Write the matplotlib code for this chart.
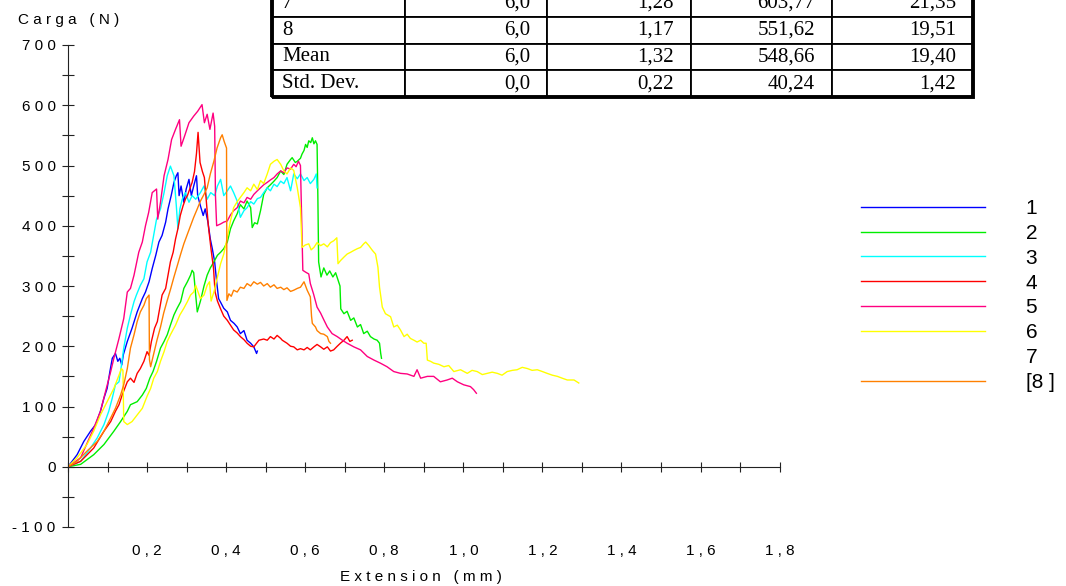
import matplotlib.pyplot as plt
from matplotlib.patches import Rectangle
from matplotlib.ticker import FixedLocator, MultipleLocator, FuncFormatter

# load-extension curves: (extension mm, load N)
curve_1 = [(0, 0), (0.023, 20), (0.040, 42), (0.057, 59), (0.070, 70), (0.082, 92), (0.091, 114),
           (0.099, 130), (0.106, 158), (0.112, 180), (0.120, 188), (0.126, 175), (0.131, 180),
           (0.136, 169), (0.140, 186), (0.150, 208), (0.162, 230), (0.175, 257), (0.188, 279),
           (0.196, 290), (0.205, 307), (0.213, 329), (0.222, 351), (0.230, 373), (0.238, 384),
           (0.247, 406), (0.253, 428), (0.261, 450), (0.268, 472), (0.274, 483), (0.278, 488),
           (0.281, 450), (0.286, 466), (0.293, 439), (0.299, 461), (0.306, 477), (0.312, 450),
           (0.318, 466), (0.325, 483), (0.328, 450), (0.335, 433), (0.342, 417), (0.347, 428),
           (0.354, 406), (0.360, 378), (0.365, 362), (0.371, 340), (0.376, 307), (0.381, 279),
           (0.386, 273), (0.394, 263), (0.403, 257), (0.411, 243), (0.420, 238), (0.428, 232),
           (0.436, 221), (0.445, 226), (0.453, 210), (0.462, 205), (0.470, 199), (0.477, 188),
           (0.479, 192)]

curve_2 = [(0, 0), (0.032, 4), (0.065, 20), (0.091, 37), (0.116, 59), (0.133, 75), (0.150, 92),
           (0.158, 103), (0.175, 108), (0.188, 119), (0.198, 130), (0.207, 147), (0.215, 158),
           (0.224, 175), (0.234, 197), (0.243, 208), (0.251, 219), (0.259, 235), (0.268, 252),
           (0.276, 263), (0.285, 274), (0.293, 296), (0.302, 307), (0.310, 318), (0.314, 326),
           (0.318, 322), (0.323, 285), (0.327, 257), (0.335, 275), (0.344, 300), (0.352, 318),
           (0.360, 330), (0.369, 340), (0.378, 351), (0.386, 356), (0.394, 362), (0.403, 373),
           (0.411, 395), (0.419, 408), (0.428, 420), (0.436, 435), (0.445, 428), (0.453, 441),
           (0.462, 430), (0.466, 397), (0.472, 405), (0.479, 403), (0.487, 425), (0.495, 452),
           (0.504, 463), (0.512, 468), (0.521, 474), (0.529, 480), (0.538, 491), (0.546, 485),
           (0.554, 502), (0.563, 510), (0.567, 513), (0.575, 505), (0.580, 507), (0.588, 512),
           (0.592, 519), (0.597, 525), (0.601, 535), (0.605, 530), (0.609, 541), (0.614, 538),
           (0.618, 546), (0.622, 536), (0.626, 541), (0.630, 535), (0.632, 450), (0.634, 340),
           (0.640, 315), (0.647, 330), (0.655, 318), (0.662, 325), (0.670, 315), (0.677, 322),
           (0.683, 310), (0.688, 300), (0.690, 262), (0.698, 254), (0.706, 258), (0.715, 243),
           (0.723, 247), (0.732, 232), (0.740, 236), (0.748, 221), (0.757, 225), (0.765, 216),
           (0.774, 212), (0.782, 210), (0.788, 205), (0.791, 188), (0.793, 180)]

curve_3 = [(0, 0), (0.032, 9), (0.057, 31), (0.074, 48), (0.091, 70), (0.103, 92), (0.112, 114),
           (0.120, 136), (0.129, 141), (0.133, 158), (0.141, 197), (0.150, 230), (0.158, 252),
           (0.167, 274), (0.173, 285), (0.183, 301), (0.192, 312), (0.200, 340), (0.209, 356),
           (0.215, 378), (0.224, 411), (0.234, 428), (0.243, 455), (0.251, 483), (0.259, 499),
           (0.268, 483), (0.274, 433), (0.278, 395), (0.283, 428), (0.289, 444), (0.297, 455),
           (0.306, 439), (0.314, 450), (0.323, 444), (0.335, 455), (0.344, 466), (0.352, 444),
           (0.361, 455), (0.371, 450), (0.378, 466), (0.386, 477), (0.394, 450), (0.403, 458),
           (0.411, 466), (0.419, 455), (0.428, 441), (0.436, 414), (0.445, 425), (0.453, 430),
           (0.462, 440), (0.470, 436), (0.479, 445), (0.487, 447), (0.495, 455), (0.504, 463),
           (0.512, 458), (0.521, 469), (0.529, 465), (0.538, 474), (0.546, 470), (0.554, 480),
           (0.563, 458), (0.571, 486), (0.580, 478), (0.588, 486), (0.597, 475), (0.605, 480),
           (0.613, 470), (0.622, 477), (0.628, 486), (0.630, 463)]

curve_4 = [(0, 0), (0.032, 9), (0.065, 31), (0.091, 59), (0.108, 75), (0.120, 92), (0.129, 103),
           (0.137, 119), (0.150, 141), (0.158, 147), (0.167, 140), (0.175, 155), (0.183, 163),
           (0.192, 175), (0.200, 191), (0.205, 185), (0.211, 208), (0.219, 230), (0.226, 241),
           (0.232, 263), (0.238, 285), (0.247, 296), (0.253, 318), (0.259, 340), (0.266, 356),
           (0.272, 378), (0.278, 395), (0.284, 417), (0.291, 433), (0.297, 444), (0.302, 450),
           (0.308, 461), (0.314, 472), (0.320, 490), (0.325, 520), (0.329, 555), (0.334, 505),
           (0.340, 490), (0.345, 480), (0.350, 440), (0.355, 400), (0.362, 360), (0.368, 330),
           (0.372, 290), (0.378, 275), (0.386, 262), (0.394, 250), (0.403, 243), (0.411, 235),
           (0.419, 227), (0.428, 222), (0.436, 216), (0.445, 211), (0.453, 205), (0.462, 200),
           (0.470, 199), (0.477, 205), (0.483, 210), (0.495, 212), (0.504, 210), (0.512, 216),
           (0.521, 212), (0.529, 218), (0.538, 213), (0.542, 210), (0.554, 205), (0.563, 200),
           (0.571, 199), (0.580, 194), (0.588, 196), (0.597, 194), (0.605, 198), (0.613, 194),
           (0.622, 199), (0.630, 203), (0.639, 199), (0.647, 195), (0.656, 199), (0.664, 192),
           (0.672, 194), (0.681, 200), (0.689, 205), (0.698, 210), (0.706, 216), (0.713, 208),
           (0.719, 210)]

curve_5 = [(0, 0), (0.032, 15), (0.065, 64), (0.082, 92), (0.095, 125), (0.108, 158), (0.116, 180),
           (0.129, 213), (0.141, 246), (0.150, 290), (0.158, 296), (0.167, 318), (0.179, 356),
           (0.188, 373), (0.196, 400), (0.204, 422), (0.213, 455), (0.224, 461), (0.227, 411),
           (0.234, 439), (0.243, 483), (0.253, 510), (0.262, 543), (0.272, 560), (0.282, 576),
           (0.286, 532), (0.295, 549), (0.306, 571), (0.318, 582), (0.328, 590), (0.339, 601),
           (0.345, 571), (0.352, 585), (0.359, 560), (0.367, 587), (0.371, 565), (0.373, 450),
           (0.376, 400), (0.386, 403), (0.394, 406), (0.403, 408), (0.411, 418), (0.419, 425),
           (0.428, 430), (0.436, 441), (0.445, 438), (0.453, 447), (0.462, 444), (0.470, 452),
           (0.479, 458), (0.487, 463), (0.495, 468), (0.504, 472), (0.512, 476), (0.521, 480),
           (0.529, 486), (0.538, 491), (0.546, 488), (0.554, 496), (0.563, 494), (0.571, 502),
           (0.577, 498), (0.583, 507), (0.588, 500), (0.594, 326), (0.601, 323), (0.609, 320),
           (0.613, 304), (0.621, 287), (0.630, 265), (0.639, 255), (0.647, 244), (0.656, 232),
           (0.668, 221), (0.681, 216), (0.694, 210), (0.706, 205), (0.723, 199), (0.740, 194),
           (0.757, 183), (0.774, 177), (0.790, 172), (0.807, 166), (0.824, 158), (0.841, 155),
           (0.858, 154), (0.875, 150), (0.883, 161), (0.892, 147), (0.909, 150), (0.925, 150),
           (0.942, 141), (0.959, 144), (0.972, 147), (0.985, 141), (1.001, 136), (1.018, 133),
           (1.026, 128), (1.033, 122)]

curve_6 = [(0, 0), (0.023, 15), (0.048, 37), (0.065, 59), (0.082, 86), (0.099, 108), (0.116, 130),
           (0.129, 152), (0.135, 163), (0.139, 160), (0.141, 75), (0.150, 70), (0.162, 75),
           (0.175, 86), (0.188, 97), (0.200, 117), (0.209, 130), (0.217, 147), (0.226, 158),
           (0.234, 175), (0.243, 191), (0.251, 208), (0.259, 219), (0.272, 235), (0.283, 252),
           (0.293, 263), (0.302, 274), (0.310, 285), (0.318, 290), (0.323, 301), (0.328, 292),
           (0.335, 279), (0.344, 285), (0.352, 301), (0.358, 307), (0.362, 275), (0.369, 290),
           (0.378, 315), (0.386, 337), (0.394, 353), (0.403, 381), (0.411, 408), (0.419, 430),
           (0.428, 440), (0.436, 447), (0.445, 455), (0.453, 463), (0.462, 458), (0.470, 469),
           (0.479, 460), (0.487, 475), (0.495, 470), (0.504, 486), (0.512, 502), (0.521, 507),
           (0.529, 510), (0.538, 502), (0.546, 491), (0.554, 486), (0.563, 496), (0.571, 492),
           (0.580, 463), (0.588, 430), (0.592, 364), (0.600, 368), (0.609, 370), (0.615, 360),
           (0.622, 364), (0.630, 372), (0.639, 367), (0.647, 370), (0.656, 365), (0.664, 372),
           (0.672, 375), (0.680, 380), (0.683, 337), (0.689, 342), (0.698, 348), (0.706, 353),
           (0.715, 356), (0.723, 359), (0.732, 362), (0.740, 364), (0.748, 370), (0.753, 373),
           (0.761, 367), (0.770, 359), (0.778, 353), (0.784, 331), (0.788, 298), (0.795, 265),
           (0.803, 254), (0.816, 249), (0.824, 232), (0.833, 235), (0.841, 227), (0.850, 216),
           (0.858, 220), (0.866, 213), (0.875, 210), (0.883, 207), (0.892, 210), (0.900, 205),
           (0.906, 205), (0.909, 177), (0.917, 175), (0.925, 172), (0.938, 170), (0.951, 166),
           (0.963, 168), (0.976, 158), (0.993, 161), (1.010, 155), (1.022, 160), (1.035, 158),
           (1.048, 153), (1.060, 155), (1.073, 157), (1.086, 155), (1.098, 152), (1.111, 158),
           (1.124, 160), (1.136, 161), (1.149, 165), (1.162, 163), (1.174, 160), (1.187, 161),
           (1.200, 158), (1.212, 155), (1.225, 152), (1.238, 150), (1.250, 147), (1.263, 144),
           (1.280, 144), (1.292, 139)]

curve_8 = [(0, 0), (0.023, 9), (0.048, 26), (0.074, 42), (0.091, 59), (0.108, 81), (0.120, 97),
           (0.133, 119), (0.141, 136), (0.150, 163), (0.158, 197), (0.167, 219), (0.175, 241),
           (0.183, 257), (0.192, 268), (0.198, 279), (0.205, 285), (0.206, 178), (0.209, 166),
           (0.217, 188), (0.225, 210), (0.234, 232), (0.242, 255), (0.251, 276), (0.260, 296),
           (0.268, 315), (0.277, 335), (0.285, 353), (0.293, 370), (0.302, 386), (0.310, 400),
           (0.318, 414), (0.327, 428), (0.335, 441), (0.344, 452), (0.352, 463), (0.360, 486),
           (0.369, 507), (0.377, 529), (0.386, 546), (0.390, 551), (0.395, 540), (0.401, 529),
           (0.402, 276), (0.407, 287), (0.413, 283), (0.419, 293), (0.428, 290), (0.436, 298),
           (0.445, 296), (0.453, 304), (0.462, 300), (0.470, 307), (0.479, 303), (0.487, 306),
           (0.495, 300), (0.504, 304), (0.512, 298), (0.521, 302), (0.529, 296), (0.538, 298),
           (0.546, 294), (0.554, 297), (0.563, 291), (0.571, 293), (0.580, 296), (0.588, 298),
           (0.597, 307), (0.605, 293), (0.613, 282), (0.616, 250), (0.618, 238), (0.626, 232),
           (0.630, 226), (0.639, 221), (0.647, 220), (0.656, 216), (0.660, 208), (0.664, 205)]

series_labels = ['1', '2', '3', '4', '5', '6', '7', '[8 ]']
series_curves = [curve_1, curve_2, curve_3, curve_4, curve_5, curve_6, None, curve_8]
series_colors = ['#0000ff', '#00ee00', '#00ffff', '#ff0000', '#ff0080', '#ffff00', 'none', '#ff8000']

table_rows = ['7', '8', 'Mean', 'Std. Dev.']
table_col_a = ['6,0', '6,0', '6,0', '0,0']
table_col_b = ['1,28', '1,17', '1,32', '0,22']
table_col_c = ['603,77', '551,62', '548,66', '40,24']
table_col_d = ['21,35', '19,51', '19,40', '1,42']

x_major = [0.2, 0.4, 0.6, 0.8, 1.0, 1.2, 1.4, 1.6, 1.8]

plt.rcParams['font.family'] = ['Liberation Sans', 'DejaVu Sans']


def spaced(s):
    return ' '.join(s)


fig = plt.figure(figsize=(10.66, 5.86), dpi=100)
W, H = 1066, 586
ax = fig.add_axes([68 / W, 1 - 527 / H, 711.6 / W, 482 / H])

handles = []
for lab, pts, col in zip(series_labels, series_curves, series_colors):
    if pts is None:
        h, = ax.plot([], [], color=col, lw=1, label=lab)
    else:
        h, = ax.plot([p[0] for p in pts], [p[1] for p in pts], color=col, lw=1.0, label=lab)
    handles.append(h)

ax.set_xlim(0, 1.8)
ax.set_ylim(-100, 700)
for s in ['top', 'right']:
    ax.spines[s].set_visible(False)
ax.spines['bottom'].set_position(('data', 0))
ax.spines['left'].set_color('#222222')
ax.spines['bottom'].set_color('#222222')

ax.xaxis.set_major_locator(FixedLocator(x_major))
ax.xaxis.set_minor_locator(MultipleLocator(0.1))
ax.xaxis.set_major_formatter(FuncFormatter(lambda v, p: spaced(f'{v:.1f}'.replace('.', ','))))
ax.yaxis.set_major_locator(MultipleLocator(100))
ax.yaxis.set_minor_locator(MultipleLocator(50))
ax.yaxis.set_major_formatter(FuncFormatter(lambda v, p: spaced(f'{int(round(v))}')))
ax.tick_params(axis='x', which='both', direction='inout', length=7, width=0.8,
               color='#222222', pad=52, labelsize=11)
ax.tick_params(axis='y', which='both', direction='inout', length=8, width=0.8,
               color='#222222', pad=5, labelsize=11)

ax.set_xlabel(spaced('Extension') + '   ' + spaced('(mm)'), fontsize=11)
ax.xaxis.set_label_coords(0.496, -0.104)
ax.xaxis.label.set_va('center')
ax.set_ylabel(spaced('Carga') + '   ' + spaced('(N)'), fontsize=11, rotation=0)
ax.yaxis.set_label_coords(-0.070, 1.052)
ax.yaxis.label.set_ha('left')
ax.yaxis.label.set_va('center')

fig.legend(handles, series_labels, loc='upper left', bbox_to_anchor=(861 / W, 1 - 199 / H),
           frameon=False, fontsize=15, handlelength=5.95, handletextpad=1.95,
           labelspacing=0.28, borderpad=0, borderaxespad=0)

# results table at the top (first row is cut by the figure edge)
tax = fig.add_axes([272 / W, 1 - 97 / H, 701 / W, 107 / H])
tax.axis('off')
cells = [list(r) for r in zip(table_rows, table_col_a, table_col_b, table_col_c, table_col_d)]
widths = [133, 142, 144, 141, 141]
tbl = tax.table(cellText=cells, colWidths=[w / sum(widths) for w in widths],
                cellLoc='right', bbox=[0, 0, 1, 1])
tbl.auto_set_font_size(False)
tbl.set_fontsize(15)
for (r, c), cell in tbl.get_celld().items():
    cell.set_linewidth(1.3)
    cell.get_text().set_fontfamily('Liberation Serif')
    if c == 0:
        cell.get_text().set_ha('left')
        cell.PAD = 0.075
    else:
        cell.PAD = 0.12
tax.add_patch(Rectangle((0, 0), 1, 1, transform=tax.transAxes, fill=False, lw=2.8,
                        edgecolor='black', clip_on=False, zorder=5))

fig.savefig('out.png', dpi=100)
